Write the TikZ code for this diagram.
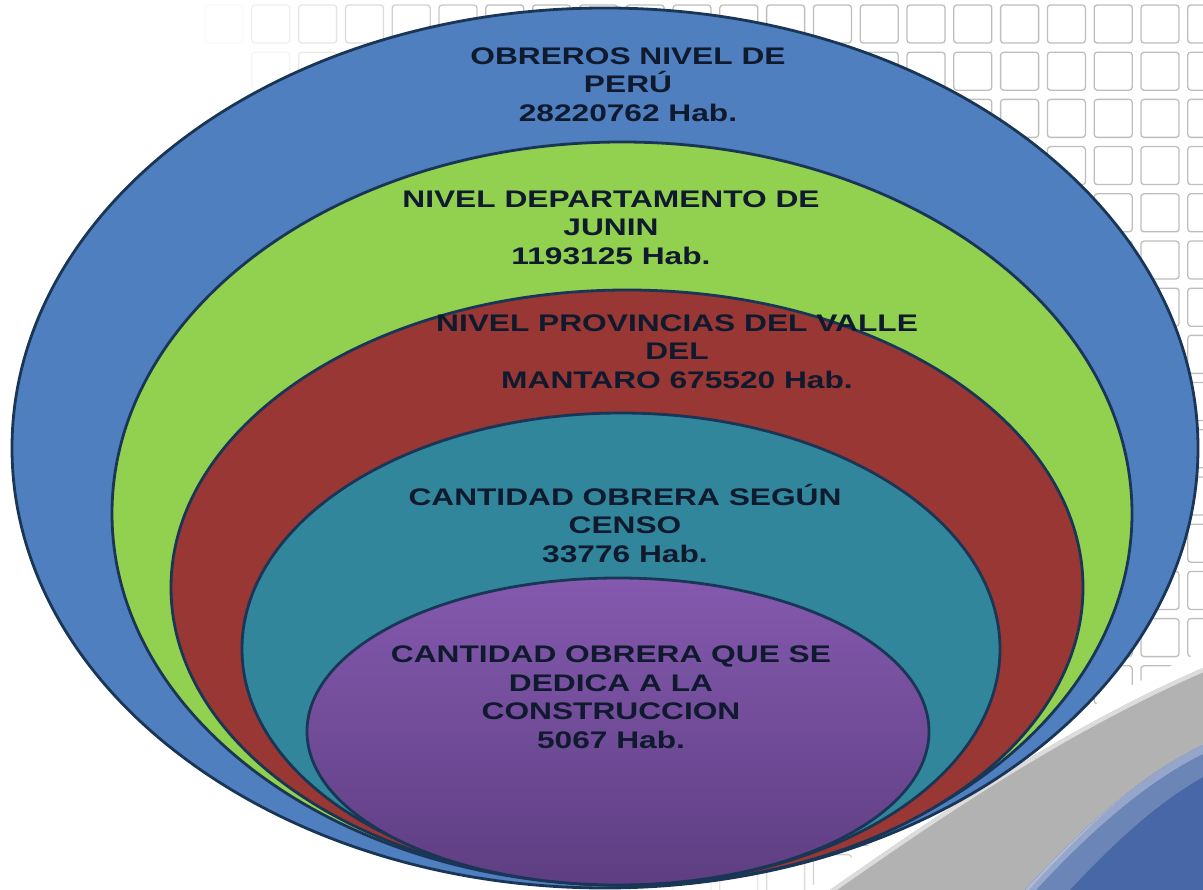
\documentclass[tikz,border=0pt]{standalone}
\usepackage{fontspec}
\newfontfamily\lab[FakeStretch=1.32]{Liberation Sans}
\definecolor{cblue}{HTML}{4F7FBF}
\definecolor{cgreen}{HTML}{92D050}
\definecolor{cred}{HTML}{983733}
\definecolor{cteal}{HTML}{31869B}
\definecolor{cpurpT}{HTML}{8459AE}
\definecolor{cpurpB}{HTML}{5E3E82}
\definecolor{edge}{HTML}{1A3657}
\definecolor{txt}{HTML}{101A2E}
\definecolor{gridc}{HTML}{BEBEBE}
\definecolor{swgray}{HTML}{B2B2B2}
\definecolor{swblue}{HTML}{4767A6}
\definecolor{swlight}{HTML}{AEBAD6}
\begin{document}
\begin{tikzpicture}[x=1pt,y=-1pt,
  gridsq/.style={draw=gridc, line width=1.3pt, rounded corners=3pt},
  ring/.style={draw=edge, line width=2.8pt},
  lbl/.style={font=\lab\bfseries\fontsize{24}{28.5}\selectfont, text=txt, align=center, inner sep=0pt}]
\useasboundingbox[fill=white] (0,0) rectangle (1203,890);
% background grid of rounded squares, fading to the lower left
\foreach \j in {0,...,18}{
  \foreach \k in {0,...,21}{
    \pgfmathsetmacro\gx{205+46.8*\k}
    \pgfmathsetmacro\gy{5+47.2*\j}
    \pgfmathsetmacro\op{max(0,min(1,(\gx-180-0.5*\gy)/300))}
    \draw[gridsq, draw opacity=\op] (\gx,\gy) rectangle ++(38,38);
  }}
% swoosh bottom right
\draw[white, line width=26pt] (815,900) .. controls (915,826) and (1055,732) .. (1210,662);
\fill[swgray] (830,890) .. controls (930,820) and (1060,730) .. (1203,668) -- (1203,890) -- cycle;
\begin{scope}
  \clip (830,890) .. controls (930,820) and (1060,730) .. (1203,668) -- (1203,890) -- cycle;
  \draw[white!55!swgray, line width=8pt] (830,890) .. controls (930,820) and (1060,730) .. (1203,668);
\end{scope}
\fill[swblue] (1025,890) .. controls (1080,830) and (1140,775) .. (1203,745) -- (1203,890) -- cycle;
\begin{scope}
  \clip (1025,890) .. controls (1080,830) and (1140,775) .. (1203,745) -- (1203,890) -- cycle;
  \draw[swlight, line width=16pt] (1025,890) .. controls (1080,830) and (1140,775) .. (1203,745);
  \draw[swlight!60!swblue, line width=30pt, opacity=0.6] (1040,900) .. controls (1095,840) and (1150,785) .. (1213,755);
\end{scope}
% nested ellipses
\draw[ring, fill=cblue]  (605,448)   ellipse [x radius=593, y radius=440];
\draw[ring, fill=cgreen] (622,513.5) ellipse [x radius=510, y radius=371.5];
\draw[ring, fill=cred]   (627,587.5) ellipse [x radius=456, y radius=297.5];
\draw[ring, fill=cteal]  (621,649)   ellipse [x radius=379, y radius=236];
\shade[top color=cpurpT, bottom color=cpurpB] (618,731.5) ellipse [x radius=311, y radius=153.5];
\draw[ring] (618,731.5) ellipse [x radius=311, y radius=153.5];
% labels
\node[lbl] (t1) at (628,84.4)  {OBREROS NIVEL DE\\PERÚ\\28220762 Hab.};
\node[lbl] (t2) at (611,227.4) {NIVEL DEPARTAMENTO DE\\JUNIN\\1193125 Hab.};
\node[lbl] (t3) at (677,351.4) {NIVEL PROVINCIAS DEL VALLE\\DEL\\MANTARO 675520 Hab.};
\node[lbl] (t4) at (625,523.4) {CANTIDAD OBRERA SEGÚN\\CENSO\\33776 Hab.};
\node[lbl] (t5) at (611,697.4) {CANTIDAD OBRERA QUE SE\\DEDICA A LA\\CONSTRUCCION\\5067 Hab.};
\end{tikzpicture}
\end{document}
